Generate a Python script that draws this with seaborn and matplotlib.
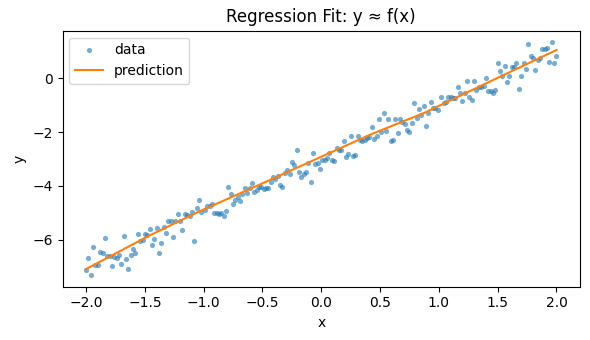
import numpy as np
import pandas as pd
import matplotlib
matplotlib.use("Agg")
import matplotlib.pyplot as plt
import seaborn as sns

# Observed samples (x, y)
x_data = [
    -2.00, -1.98, -1.96, -1.94, -1.92, -1.90, -1.88, -1.86, -1.84, -1.82,
    -1.80, -1.78, -1.76, -1.74, -1.72, -1.70, -1.68, -1.66, -1.64, -1.62,
    -1.60, -1.58, -1.56, -1.54, -1.52, -1.50, -1.48, -1.46, -1.44, -1.42,
    -1.40, -1.38, -1.36, -1.34, -1.32, -1.30, -1.28, -1.26, -1.24, -1.22,
    -1.20, -1.18, -1.16, -1.14, -1.12, -1.10, -1.08, -1.06, -1.04, -1.02,
    -0.99, -0.97, -0.95, -0.93, -0.91, -0.89, -0.87, -0.85, -0.83, -0.81,
    -0.79, -0.77, -0.75, -0.73, -0.71, -0.69, -0.67, -0.65, -0.63, -0.61,
    -0.59, -0.57, -0.55, -0.53, -0.51, -0.49, -0.47, -0.45, -0.43, -0.41,
    -0.39, -0.37, -0.35, -0.33, -0.31, -0.29, -0.27, -0.25, -0.23, -0.21,
    -0.19, -0.17, -0.15, -0.13, -0.11, -0.09, -0.07, -0.05, -0.03, -0.01,
    0.01, 0.03, 0.05, 0.07, 0.09, 0.11, 0.13, 0.15, 0.17, 0.19,
    0.21, 0.23, 0.25, 0.27, 0.29, 0.31, 0.33, 0.35, 0.37, 0.39,
    0.41, 0.43, 0.45, 0.47, 0.49, 0.51, 0.53, 0.55, 0.57, 0.59,
    0.61, 0.63, 0.65, 0.67, 0.69, 0.71, 0.73, 0.75, 0.77, 0.79,
    0.81, 0.83, 0.85, 0.87, 0.89, 0.91, 0.93, 0.95, 0.97, 0.99,
    1.02, 1.04, 1.06, 1.08, 1.10, 1.12, 1.14, 1.16, 1.18, 1.20,
    1.22, 1.24, 1.26, 1.28, 1.30, 1.32, 1.34, 1.36, 1.38, 1.40,
    1.42, 1.44, 1.46, 1.48, 1.50, 1.52, 1.54, 1.56, 1.58, 1.60,
    1.62, 1.64, 1.66, 1.68, 1.70, 1.72, 1.74, 1.76, 1.78, 1.80,
    1.82, 1.84, 1.86, 1.88, 1.90, 1.92, 1.94, 1.96, 1.98, 2.00,
]
y_data = [
    -7.13, -6.69, -7.32, -6.28, -6.96, -6.96, -6.47, -6.51, -5.95, -6.63,
    -6.60, -7.00, -6.65, -6.69, -6.59, -6.91, -5.87, -6.73, -7.09, -6.58,
    -6.36, -6.51, -5.80, -6.07, -6.01, -5.80, -5.82, -5.61, -6.21, -5.99,
    -5.59, -6.49, -6.13, -5.55, -5.76, -5.33, -5.32, -5.89, -5.33, -5.06,
    -5.33, -5.65, -5.06, -5.07, -5.12, -4.97, -6.06, -4.83, -4.54, -4.97,
    -4.89, -4.77, -4.77, -4.68, -5.02, -5.02, -5.06, -5.02, -5.11, -4.94,
    -4.05, -4.31, -4.67, -4.52, -4.40, -4.57, -4.31, -4.10, -4.28, -4.10,
    -3.90, -4.24, -4.15, -4.03, -4.03, -4.13, -4.10, -4.10, -3.87, -3.68,
    -3.74, -3.62, -3.98, -4.05, -3.53, -3.43, -3.58, -3.12, -3.23, -2.68,
    -3.49, -3.68, -3.58, -3.47, -3.14, -3.87, -2.79, -3.18, -3.14, -3.38,
    -3.04, -3.04, -2.97, -2.79, -3.04, -3.07, -2.59, -2.66, -2.66, -2.35,
    -2.94, -2.83, -2.14, -2.91, -2.86, -2.14, -2.29, -2.34, -2.29, -2.21,
    -2.18, -1.80, -2.27, -2.14, -1.51, -2.01, -1.30, -1.96, -1.50, -2.34,
    -2.28, -1.50, -2.04, -1.52, -1.64, -1.72, -1.92, -2.01, -1.66, -0.93,
    -1.49, -1.13, -1.36, -1.05, -1.78, -1.30, -0.89, -1.12, -1.12, -1.18,
    -0.68, -0.93, -0.87, -0.71, -0.69, -0.74, -0.74, -0.31, -0.56, -0.84,
    -0.56, -0.10, -0.71, -0.81, -0.12, -0.43, -0.33, -0.33, -0.27, 0.00,
    -0.46, -0.47, -0.56, -0.45, 0.56, 0.26, 0.10, 0.47, -0.15, 0.09,
    0.43, 0.43, 0.56, -0.41, 0.10, 0.58, 0.36, 1.26, 0.81, 0.74,
    0.29, 0.68, 0.77, 1.08, 1.09, 1.14, 0.61, 1.34, 0.56, 0.81,
]

# Model prediction evaluated at a few breakpoints
x_pred = [-2.00, -1.46, -1.04, -0.53, -0.06, 0.41, 0.88, 1.43, 2.00]
y_pred = [-7.10, -5.85, -4.96, -3.97, -3.04, -2.11, -1.28, -0.13, 1.05]

data_df = pd.DataFrame({"x": x_data, "y": y_data})
pred_df = pd.DataFrame({"x": x_pred, "y": y_pred})

fig, ax = plt.subplots(figsize=(5.9, 3.4), dpi=100)

sns.scatterplot(data=data_df, x="x", y="y", ax=ax, color="C0", s=14,
                alpha=0.6, linewidth=0, label="data")
sns.lineplot(data=pred_df, x="x", y="y", ax=ax, color="C1",
             linewidth=1.5, label="prediction")

ax.set_title("Regression Fit: y \u2248 f(x)")
ax.set_xlabel("x")
ax.set_ylabel("y")
ax.legend(loc="upper left")

fig.subplots_adjust(left=0.106, right=0.983, top=0.91, bottom=0.157)
fig.savefig("out.png", dpi=100)
